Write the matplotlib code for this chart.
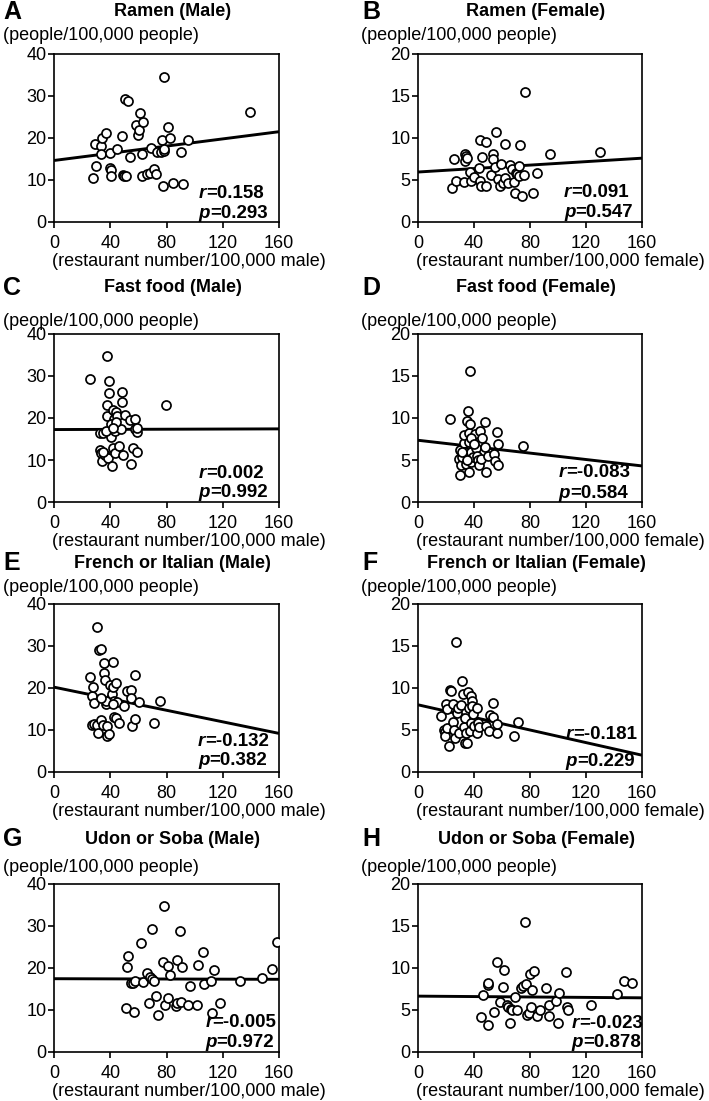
"""
Scatter plots: restaurant density vs. rate per 100,000 people,
four restaurant types, male and female panels.
"""

import matplotlib.pyplot as plt

plt.rcParams['font.family'] = ['Liberation Sans', 'DejaVu Sans']

# ---- data ----
ramen_m_x = [27.8, 29.4, 29.9, 33.5, 33.2, 34.4, 36.8, 39.6, 39.9, 40.4, 40.8, 44.9, 48.4, 48.9,
             49.9, 51.0, 50.6, 52.5, 54.1, 58.2, 59.8, 60.5, 61.0, 62.4, 63.4, 62.9, 65.8, 68.4,
             69.3, 71.0, 72.4, 72.9, 76.0, 76.7, 77.6, 77.9, 78.1, 78.3, 81.4, 82.6, 84.5, 90.2,
             91.6, 95.2, 139.6]
ramen_m_y = [10.4, 18.5, 13.3, 18.0, 16.1, 20.1, 21.2, 16.4, 12.8, 12.3, 11.0, 17.3, 20.4, 11.3,
             11.0, 10.9, 29.2, 28.8, 15.5, 23.0, 20.7, 21.9, 25.9, 16.2, 23.7, 11.0, 11.4, 11.7,
             17.7, 12.7, 11.4, 16.6, 16.6, 19.5, 8.5, 34.6, 16.8, 17.3, 22.7, 20.1, 9.4, 16.7,
             9.0, 19.6, 26.2]

ramen_f_x = [24.5, 25.7, 27.4, 32.9, 33.3, 33.3, 34.5, 35.0, 37.4, 38.1, 40.0, 43.8, 44.3, 44.5,
             45.2, 45.7, 48.3, 48.3, 51.9, 53.3, 53.8, 55.5, 55.0, 56.9, 58.6, 59.0, 60.5, 62.4,
             62.4, 64.5, 65.7, 66.9, 68.8, 69.3, 69.8, 71.0, 71.9, 72.9, 72.4, 74.5, 76.0, 76.7,
             82.1, 85.0, 94.3, 129.8]
ramen_f_y = [4.06, 7.55, 4.93, 4.77, 8.07, 7.28, 7.87, 7.67, 6.0, 4.85, 5.37, 6.48, 4.85, 9.82,
             4.29, 7.79, 9.58, 4.25, 5.57, 8.11, 7.47, 10.66, 6.6, 5.17, 4.25, 6.92, 4.61, 9.34,
             5.29, 4.65, 6.8, 6.36, 4.73, 3.5, 5.88, 5.73, 6.72, 9.18, 5.49, 3.06, 5.65, 15.47,
             3.5, 5.8, 8.15, 8.35]

fast_m_x = [25.3, 32.4, 32.7, 33.1, 33.8, 35.0, 35.3, 36.4, 37.9, 37.4, 37.9, 38.6, 39.1, 39.1,
            39.3, 40.2, 40.9, 41.4, 41.7, 41.9, 42.6, 43.3, 43.6, 44.3, 45.0, 46.2, 47.9, 48.3,
            48.3, 49.2, 50.4, 53.7, 54.7, 55.9, 57.3, 57.8, 59.2, 59.2, 79.8, 59.2, 34.6, 40.2,
            36.7, 43.8, 41.9]
fast_m_y = [29.4, 16.5, 12.5, 11.6, 9.7, 16.4, 11.5, 11.1, 34.8, 23.0, 20.4, 10.5, 28.8, 26.0,
            16.6, 15.4, 18.1, 8.6, 21.9, 12.8, 19.8, 11.7, 16.8, 21.4, 20.5, 13.4, 17.5, 26.3,
            23.8, 11.1, 20.8, 19.6, 9.1, 12.8, 19.7, 17.3, 16.7, 11.8, 23.1, 17.7, 11.8, 18.6,
            17.0, 19.0, 17.7]

fast_f_x = [22.6, 29.7, 29.2, 29.9, 30.9, 31.3, 32.5, 33.2, 33.7, 34.4, 35.1, 35.6, 36.1, 36.6,
            37.0, 37.3, 37.5, 37.7, 38.7, 39.6, 40.4, 40.8, 41.3, 42.3, 42.7, 43.4, 44.4, 45.1,
            45.8, 47.5, 48.0, 48.4, 49.9, 54.6, 55.1, 56.5, 57.1, 57.4, 75.3, 36.1, 38.0, 39.9,
            31.3, 34.9]
fast_f_y = [9.9, 3.2, 5.1, 6.2, 4.4, 5.3, 7.0, 8.0, 5.9, 4.5, 9.7, 10.8, 8.2, 3.6,
            15.6, 9.3, 6.0, 4.8, 7.1, 5.4, 7.7, 8.1, 6.4, 5.5, 5.0, 4.4, 8.5, 5.1,
            7.6, 6.6, 9.5, 3.6, 5.5, 5.7, 4.9, 8.3, 6.9, 4.4, 6.7, 7.2, 7.6, 6.9,
            6.0, 5.0]

french_m_x = [25.6, 27.0, 27.5, 28.2, 27.3, 28.7, 30.3, 30.6, 31.3, 32.2, 33.2, 33.6, 34.6, 35.3,
              35.8, 36.0, 37.0, 37.4, 37.9, 38.9, 39.6, 40.3, 41.2, 41.7, 42.2, 42.7, 42.4, 44.1,
              44.3, 45.0, 46.4, 49.5, 51.7, 54.5, 55.0, 55.7, 57.3, 57.8, 60.2, 71.1, 75.6, 36.7,
              41.7, 33.2]
french_m_y = [22.7, 18.0, 20.2, 16.4, 11.1, 11.4, 34.6, 11.2, 9.4, 29.1, 29.2, 12.3, 11.3, 25.9,
              23.6, 21.9, 16.2, 8.6, 10.9, 9.1, 20.6, 17.6, 18.6, 26.1, 20.3, 16.9, 13.2, 21.2,
              12.8, 16.6, 11.6, 15.6, 19.4, 19.6, 17.7, 11.0, 23.0, 12.6, 16.7, 11.6, 16.9, 16.8,
              16.2, 17.7]

french_f_x = [16.2, 18.6, 19.0, 19.5, 20.2, 20.5, 21.0, 22.1, 22.6, 23.3, 24.8, 25.2, 25.7, 26.2,
              27.1, 27.6, 28.3, 29.5, 31.0, 31.7, 31.9, 32.6, 33.3, 33.6, 34.3, 35.2, 36.0, 36.4,
              36.9, 37.6, 37.9, 38.3, 38.8, 39.3, 40.0, 42.1, 41.9, 43.1, 43.8, 48.8, 50.9, 51.4,
              53.3, 53.8, 56.2, 56.2, 68.8, 71.4]
french_f_y = [6.7, 5.0, 4.8, 4.3, 8.1, 7.5, 5.2, 3.1, 9.8, 9.7, 8.1, 6.0, 5.0, 4.1,
              15.5, 7.0, 7.6, 4.6, 8.0, 10.8, 9.3, 5.4, 6.4, 3.5, 4.7, 3.4, 9.5, 7.6,
              4.9, 9.1, 5.8, 8.5, 7.8, 6.9, 5.5, 7.6, 4.6, 5.8, 5.4, 5.5, 4.9, 6.8,
              6.6, 8.2, 4.7, 5.7, 4.3, 5.9]

udon_m_x = [51.4, 51.9, 52.6, 54.5, 56.2, 56.6, 57.6, 62.1, 63.3, 66.4, 67.8, 68.2, 69.7, 69.7,
            71.1, 72.7, 74.2, 78.0, 77.5, 78.7, 81.0, 81.3, 82.2, 86.7, 87.2, 87.7, 89.8, 90.3,
            91.0, 95.0, 96.4, 101.7, 102.4, 106.2, 106.9, 111.4, 112.1, 113.7, 118.2, 132.0,
            148.1, 154.7, 158.5]
udon_m_y = [10.5, 20.3, 22.8, 16.4, 16.4, 9.6, 16.8, 26.0, 16.7, 18.7, 11.6, 17.9, 29.3, 17.4,
            16.8, 13.4, 8.7, 34.7, 21.4, 11.2, 12.8, 20.4, 18.3, 10.9, 21.9, 11.7, 28.9, 12.0,
            20.2, 11.2, 15.7, 11.2, 20.8, 23.8, 16.2, 17.0, 9.2, 19.5, 11.6, 16.8,
            17.7, 19.8, 26.3]

udon_f_x = [45.2, 46.2, 49.8, 50.0, 50.2, 54.3, 56.4, 58.8, 60.5, 61.7, 63.8, 64.3, 65.5, 66.2,
            67.1, 69.0, 70.7, 73.3, 75.2, 76.7, 76.9, 77.6, 79.5, 80.2, 81.0, 81.7, 82.9, 84.8,
            87.1, 91.7, 93.3, 93.3, 98.8, 100.5, 100.2, 105.5, 106.2, 107.4, 123.6, 141.9,
            147.1, 153.1]
udon_f_y = [4.2, 6.8, 3.2, 8.0, 8.2, 4.8, 10.7, 5.9, 7.7, 9.8, 5.6, 5.3, 3.5, 5.1,
            5.0, 6.5, 5.0, 7.6, 7.8, 15.5, 8.1, 4.4, 4.6, 9.3, 5.4, 7.4, 9.7, 4.3,
            5.0, 7.6, 5.6, 4.3, 6.1, 7.0, 3.5, 9.5, 5.4, 5.0, 5.6, 6.9,
            8.4, 8.2]

letters = ['A', 'B', 'C', 'D', 'E', 'F', 'G', 'H']
titles = ['Ramen (Male)', 'Ramen (Female)', 'Fast food (Male)', 'Fast food (Female)',
          'French or Italian (Male)', 'French or Italian (Female)',
          'Udon or Soba (Male)', 'Udon or Soba (Female)']
r_values = ['0.158', '0.091', '0.002', '-0.083', '-0.132', '-0.181', '-0.005', '-0.023']
p_values = ['0.293', '0.547', '0.992', '0.584', '0.382', '0.229', '0.972', '0.878']
fit_intercept = [14.65, 5.95, 17.25, 7.35, 20.2, 8.0, 17.45, 6.65]
fit_slope = [0.0428, 0.0103, 0.001, -0.0191, -0.0688, -0.0375, -0.0009, -0.00125]
male_yticks = [0, 10, 20, 30, 40]
female_yticks = [0, 5, 10, 15, 20]
xticks = [0, 40, 80, 120, 160]

xs = [ramen_m_x, ramen_f_x, fast_m_x, fast_f_x, french_m_x, french_f_x, udon_m_x, udon_f_x]
ys = [ramen_m_y, ramen_f_y, fast_m_y, fast_f_y, french_m_y, french_f_y, udon_m_y, udon_f_y]

# ---- layout (pixels) ----
W, H = 709, 1101
col_left = [54, 418]
col_width = [225, 224]
row_top = [54, 334, 604, 884]
ax_h = 168
title_y = [12, 288, 563, 839]
ylab_y = [35, 321, 588, 867]
stat_x = [0.644, 0.652, 0.644, 0.629, 0.64, 0.66, 0.672, 0.686]
r_y = [0.17, 0.175, 0.17, 0.176, 0.184, 0.223, 0.174, 0.172]
p_y = [0.05, 0.056, 0.056, 0.053, 0.07, 0.065, 0.055, 0.054]

fig = plt.figure(figsize=(W / 100, H / 100), dpi=100)

for i in range(8):
    row, col = divmod(i, 2)
    x0, w, top = col_left[col], col_width[col], row_top[row]
    ax = fig.add_axes([x0 / W, 1 - (top + ax_h) / H, w / W, ax_h / H])

    ax.plot(xs[i], ys[i], 'o', mfc='white', mec='black', ms=6.5, mew=1.25, zorder=3)

    ymax = 40 if col == 0 else 20
    xline = [0, 160]
    yline = [fit_intercept[i] + fit_slope[i] * v for v in xline]
    ax.plot(xline, yline, color='black', lw=2.1, solid_capstyle='butt', zorder=2)

    ax.set_xlim(0, 160)
    ax.set_ylim(0, ymax)
    ax.set_xticks(xticks)
    ax.set_yticks(male_yticks if col == 0 else female_yticks)
    ax.tick_params(axis='both', direction='out', length=4, width=1.2, labelsize=13, colors='black')
    ax.tick_params(axis='x', pad=5)
    ax.tick_params(axis='y', pad=1.5)
    for s in ax.spines.values():
        s.set_linewidth(1.2)
        s.set_color('black')

    # r / p annotations, italic letter then bold value
    for lab, val, yy in [('r', r_values[i], r_y[i]), ('p', p_values[i], p_y[i])]:
        t = ax.text(stat_x[i], yy, lab, transform=ax.transAxes, fontsize=13.5, fontweight='bold',
                    fontstyle='italic', ha='left', va='center', zorder=4)
        ax.annotate('=' + val, xy=(1, 0.5), xycoords=t, fontsize=13.5, fontweight='bold',
                    ha='left', va='center', zorder=4)

    # x label, left aligned under the axes
    unit = 'male' if col == 0 else 'female'
    fig.text((x0 - 2) / W, 1 - (top + ax_h + 39) / H,
             '(restaurant number/100,000 %s)' % unit, fontsize=13, ha='left', va='center')

    # y unit label above the axes
    fig.text((3 if col == 0 else 361) / W, 1 - ylab_y[row] / H,
             '(people/100,000 people)', fontsize=13, ha='left', va='center')

    # panel letter and title
    fig.text((3 if col == 0 else 362) / W, 1 - title_y[row] / H, letters[i],
             fontsize=18, fontweight='bold', ha='left', va='center')
    fig.text((x0 + w / 2 + 6) / W, 1 - title_y[row] / H, titles[i],
             fontsize=13, fontweight='bold', ha='center', va='center')

fig.savefig('out.png', dpi=100)
